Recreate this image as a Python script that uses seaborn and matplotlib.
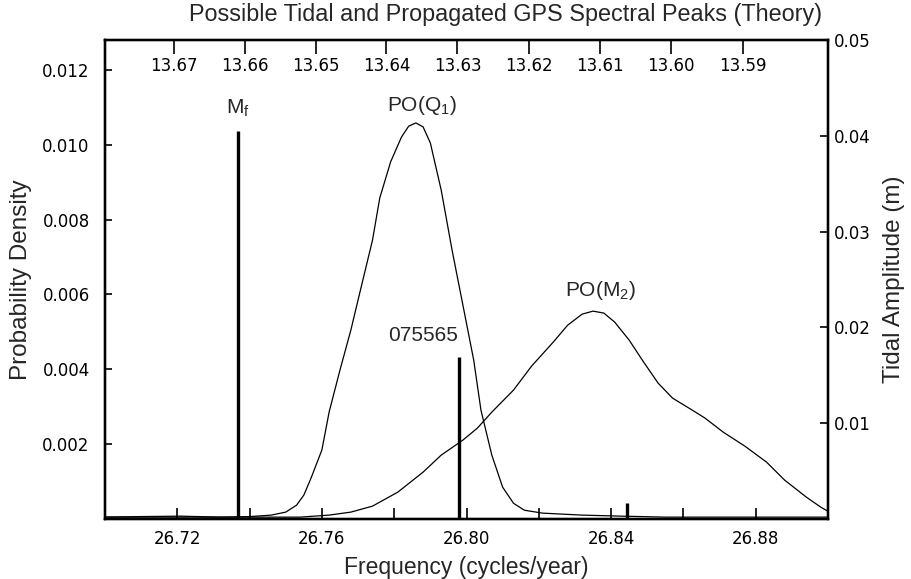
import matplotlib
matplotlib.use("Agg")
import matplotlib.pyplot as plt
import seaborn as sns
import pandas as pd

# ---------------- data ----------------
poq_freq = [26.700, 26.709, 26.721, 26.732, 26.740, 26.746, 26.750, 26.753, 26.755,
            26.757, 26.760, 26.762, 26.765, 26.768, 26.771, 26.774, 26.776, 26.779,
            26.782, 26.784, 26.786, 26.788, 26.790, 26.793, 26.796, 26.799, 26.802,
            26.804, 26.807, 26.810, 26.813, 26.816, 26.821, 26.832, 26.843, 26.855, 26.900]
poq_density = [0.00005, 0.000064, 0.000076, 0.00005, 0.000064, 0.000104, 0.000184, 0.000371,
               0.000638, 0.001094, 0.001845, 0.002859, 0.003981, 0.005044, 0.006254, 0.007453,
               0.008575, 0.009541, 0.010204, 0.010497, 0.010584, 0.010477, 0.010048, 0.008790,
               0.007190, 0.005717, 0.004244, 0.002908, 0.001708, 0.000850, 0.000421, 0.000235,
               0.000157, 0.000104, 0.000076, 0.00005, 0.00005]

pom2_freq = [26.700, 26.754, 26.762, 26.768, 26.774, 26.781, 26.788, 26.793, 26.799, 26.803,
             26.807, 26.813, 26.818, 26.824, 26.828, 26.832, 26.835, 26.838, 26.841, 26.845,
             26.849, 26.853, 26.857, 26.862, 26.866, 26.871, 26.877, 26.883, 26.888, 26.894,
             26.898, 26.900]
pom2_density = [0.00005, 0.00005, 0.000104, 0.000184, 0.000344, 0.000718, 0.001253, 0.001707,
                0.002108, 0.002428, 0.002856, 0.003444, 0.004085, 0.004727, 0.005181, 0.005475,
                0.005555, 0.005502, 0.005261, 0.004780, 0.004193, 0.003631, 0.003230, 0.002936,
                0.002695, 0.002322, 0.001947, 0.001520, 0.001039, 0.000585, 0.000317, 0.000206]

tide_freq = [26.7368, 26.7979, 26.8443]
tide_amp = [0.0405, 0.0169, 0.0017]

bottom_ticks = [26.72, 26.76, 26.80, 26.84, 26.88]
bottom_minor = [26.74, 26.78, 26.82, 26.86]
top_values = [13.67, 13.66, 13.65, 13.64, 13.63, 13.62, 13.61, 13.60, 13.59]
left_ticks = [0.002, 0.004, 0.006, 0.008, 0.010, 0.012]
right_ticks = [0.01, 0.02, 0.03, 0.04, 0.05]

annot_text = [r"$\mathregular{M_f}$", r"$\mathregular{PO(Q_1)}$",
              r"$\mathregular{PO(M_2)}$", "075565"]
annot_x = [26.7368, 26.7876, 26.8370, 26.7881]
annot_y = [0.0429, 0.0432, 0.0239, 0.0192]

title = "Possible Tidal and Propagated GPS Spectral Peaks (Theory)"

# ---------------- style ----------------
sns.set_theme(style="ticks")
plt.rcParams["font.family"] = ["Liberation Sans", "DejaVu Sans"]
plt.rcParams["axes.linewidth"] = 1.6
plt.rcParams["axes.edgecolor"] = "black"

fig = plt.figure(figsize=(9.12, 5.79), dpi=100)
ax = fig.add_axes([105 / 912, 1 - 519 / 579, (828 - 105) / 912, (519 - 40) / 579])

df_q = pd.DataFrame({"f": poq_freq, "d": poq_density})
df_m = pd.DataFrame({"f": pom2_freq, "d": pom2_density})
sns.lineplot(data=df_q, x="f", y="d", ax=ax, color="black", linewidth=0.9, sort=False)
sns.lineplot(data=df_m, x="f", y="d", ax=ax, color="black", linewidth=0.9, sort=False)

tick_font = dict(family="DejaVu Sans", fontsize=12)

ax.set_xlim(26.70, 26.90)
ax.set_ylim(0, 0.0128)
ax.set_xticks(bottom_ticks)
ax.set_xticks(bottom_minor, minor=True)
ax.set_xticklabels([f"{v:.2f}" for v in bottom_ticks], **tick_font)
ax.set_yticks(left_ticks)
ax.set_yticklabels([f"{v:.3f}" for v in left_ticks], **tick_font)
ax.tick_params(axis="x", which="both", direction="in", length=8, width=1.2, pad=8, colors="black")
ax.tick_params(axis="y", which="both", direction="in", length=5, width=1.2, pad=11, colors="black")
ax.set_xlabel("Frequency (cycles/year)", fontsize=16.5, labelpad=6)
ax.set_ylabel("Probability Density", fontsize=17.5, labelpad=7)

# right axis: tidal amplitude
ax_r = ax.twinx()
ax_r.vlines(tide_freq, 0, tide_amp, colors="black", linewidth=2.4)
ax_r.set_ylim(0, 0.05)
ax_r.set_yticks(right_ticks)
ax_r.set_yticklabels([f"{v:.2f}" for v in right_ticks], **tick_font)
ax_r.tick_params(axis="y", direction="in", length=6, width=1.2, pad=4, colors="black")
ax_r.set_ylabel("Tidal Amplitude (m)", fontsize=17.5, labelpad=9)

for t, x, y in zip(annot_text, annot_x, annot_y):
    ax_r.text(x, y, t, ha="center", va="center", fontsize=15)

# top axis: period in days
ax_t = ax.twiny()
ax_t.set_xlim(ax.get_xlim())
ax_t.set_xticks([365.25 / v for v in top_values])
ax_t.set_xticklabels([f"{v:.2f}" for v in top_values], **tick_font)
ax_t.tick_params(axis="x", direction="in", length=10, width=1.2, pad=-25, colors="black")

for a in (ax, ax_r, ax_t):
    for s in a.spines.values():
        s.set_linewidth(1.6)
        s.set_color("black")

fig.text(506 / 912, 1 - 15 / 579, title, ha="center", va="center", fontsize=16.8)

fig.savefig("out.png", dpi=100)
